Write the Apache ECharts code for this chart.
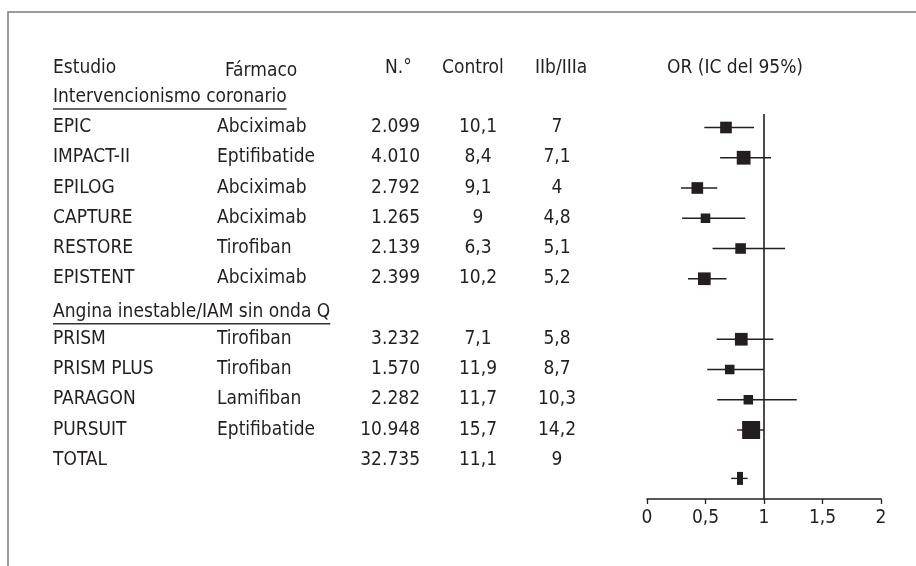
<!DOCTYPE html>
<html><head><meta charset="utf-8">
<script src="https://cdn.jsdelivr.net/npm/echarts@6/dist/echarts.min.js"></script>
<style>html,body{margin:0;padding:0;background:#fff}#c{width:916px;height:566px}</style>
</head><body><div id="c"></div>
<script>
// ---------------- DATA ----------------
const headers = ['Estudio', 'Fármaco', 'N.°', 'Control', 'IIb/IIIa', 'OR (IC del 95%)'];
const groups = ['Intervencionismo coronario', 'Angina inestable/IAM sin onda Q'];
const studies = ['EPIC', 'IMPACT-II', 'EPILOG', 'CAPTURE', 'RESTORE', 'EPISTENT', 'PRISM', 'PRISM PLUS', 'PARAGON', 'PURSUIT'];
const studyGroup = [0, 0, 0, 0, 0, 0, 1, 1, 1, 1];
const drugs = ['Abciximab', 'Eptifibatide', 'Abciximab', 'Abciximab', 'Tirofiban', 'Abciximab', 'Tirofiban', 'Tirofiban', 'Lamifiban', 'Eptifibatide'];
const nPatients = ['2.099', '4.010', '2.792', '1.265', '2.139', '2.399', '3.232', '1.570', '2.282', '10.948'];
const controlPct = ['10,1', '8,4', '9,1', '9', '6,3', '10,2', '7,1', '11,9', '11,7', '15,7'];
const treatedPct = ['7', '7,1', '4', '4,8', '5,1', '5,2', '5,8', '8,7', '10,3', '14,2'];
const oddsRatio = [0.675, 0.826, 0.43, 0.50, 0.80, 0.49, 0.806, 0.707, 0.866, 0.89];
const ciLow = [0.49, 0.625, 0.29, 0.30, 0.56, 0.35, 0.595, 0.515, 0.60, 0.77];
const ciHigh = [0.915, 1.06, 0.60, 0.84, 1.18, 0.68, 1.08, 1.00, 1.28, 1.00];
const weight = [9.1, 12.7, 9.1, 6.1, 7.5, 10.8, 10.8, 6.1, 6.1, 21.7];
const totalRow = ['TOTAL', '32.735', '11,1', '9'];
const totalOR = [0.795, 0.72, 0.86]; // OR, low, high
const xTicks = [0, 0.5, 1, 1.5, 2];

// ---------------- LAYOUT / STYLE ----------------
function fontOK(name) {
  const c = document.createElement('canvas').getContext('2d');
  const s = 'Intervencionismo EPIC 2.099';
  c.font = '40px monospace'; const a = c.measureText(s).width;
  c.font = "40px '" + name + "', monospace"; const b = c.measureText(s).width;
  return Math.abs(a - b) > 0.5;
}
const useDV = fontOK('DejaVu Sans Condensed');
const FONT_FAMILY = useDV ? "'DejaVu Sans Condensed'" : "'Liberation Sans Narrow'";
const FONT_SIZE = useDV ? 19 : 21;
const INK = '#231f20';
const FONT = FONT_SIZE + 'px ' + FONT_FAMILY;

const ROW0 = 97, ROWH = 30.25;           // table line pitch
const L = {
  colStudy: 53, colDrug: 217, colNRight: 420, colCtrlCenter: 478, colTrtCenter: 557,
  headX: [53, 225, 385, 442, 535, 667], headY: 68, headDy: [0, 3.5, 0, 0, 0, 0],
  underlineDy: 12, groupDy: [0, 3]
};

const measureCtx = document.createElement('canvas').getContext('2d');
measureCtx.font = FONT;
function textW(t) { return measureCtx.measureText(t).width; }

// table line index: group heading then its studies, then TOTAL
const lineOfStudy = studies.map((s, i) => i + 1 + studyGroup[i]);
const lineOfGroup = groups.map((g, gi) => studyGroup.indexOf(gi) + gi);
const lineOfTotal = lineOfStudy[lineOfStudy.length - 1] + 1;
const yOfLine = k => ROW0 + ROWH * k;

const items = [];
headers.forEach((h, i) => items.push({x: L.headX[i], y: L.headY + L.headDy[i], t: h, a: 'left'}));
groups.forEach((g, i) => items.push({x: L.colStudy, y: yOfLine(lineOfGroup[i]) + L.groupDy[i], t: g, a: 'left', u: true}));
studies.forEach((s, i) => {
  const y = yOfLine(lineOfStudy[i]);
  items.push({x: L.colStudy, y, t: s, a: 'left'});
  items.push({x: L.colDrug, y, t: drugs[i], a: 'left'});
  items.push({x: L.colNRight, y, t: nPatients[i], a: 'right'});
  items.push({x: L.colCtrlCenter, y, t: controlPct[i], a: 'center'});
  items.push({x: L.colTrtCenter, y, t: treatedPct[i], a: 'center'});
});
const yT = yOfLine(lineOfTotal);
items.push({x: L.colStudy, y: yT, t: totalRow[0], a: 'left'});
items.push({x: L.colNRight, y: yT, t: totalRow[1], a: 'right'});
items.push({x: L.colCtrlCenter, y: yT, t: totalRow[2], a: 'center'});
items.push({x: L.colTrtCenter, y: yT, t: totalRow[3], a: 'center'});

// forest rows share the table pitch; the pooled estimate sits a bit lower
const forestRow = studies.map((s, i) => i + studyGroup[i]);
const totalRowPos = forestRow[forestRow.length - 1] + 1.6;
const maxW = Math.max(...weight);
const forestData = studies.map((s, i) => [forestRow[i], ciLow[i], ciHigh[i], oddsRatio[i], 18 * Math.sqrt(weight[i] / maxW)]);

const chart = echarts.init(document.getElementById('c'), null, {renderer: 'canvas'});
chart.setOption({
  animation: false,
  backgroundColor: '#fff',
  graphic: [{
    type: 'polyline', silent: true,
    shape: {points: [[8, 566], [8, 12], [916, 12]]},
    style: {stroke: '#7a7a7a', lineWidth: 1.5, fill: null}
  }],
  grid: [
    {left: 0, top: 0, width: 916, height: 566},
    {left: 647, right: 35, top: 114, bottom: 67}
  ],
  xAxis: [
    {gridIndex: 0, type: 'value', min: 0, max: 916, show: false},
    {gridIndex: 1, type: 'value', min: xTicks[0], max: xTicks[xTicks.length - 1], interval: 0.5,
     axisLine: {show: true, onZero: false, lineStyle: {color: INK, width: 1.5}},
     axisTick: {show: true, inside: false, length: 5, lineStyle: {color: INK, width: 1.3}},
     axisLabel: {color: INK, fontFamily: FONT_FAMILY, fontSize: FONT_SIZE, margin: 10,
       formatter: v => String(v).replace('.', ',')},
     splitLine: {show: false}}
  ],
  yAxis: [
    {gridIndex: 0, type: 'value', min: 0, max: 566, inverse: true, show: false},
    {gridIndex: 1, type: 'value', min: -0.446, max: 12.281, inverse: true, show: false}
  ],
  series: [
    {
      type: 'custom', xAxisIndex: 0, yAxisIndex: 0, silent: true, clip: false,
      data: items.map(it => [it.x, it.y]),
      encode: {x: 0, y: 1},
      renderItem(params, api) {
        const it = items[params.dataIndex];
        const p = api.coord([api.value(0), api.value(1)]);
        const children = [{
          type: 'text', x: p[0], y: p[1],
          style: {text: it.t, font: FONT, fill: INK, align: it.a, verticalAlign: 'middle'}
        }];
        if (it.u) {
          const w = textW(it.t);
          children.push({type: 'line',
            shape: {x1: p[0], y1: p[1] + L.underlineDy, x2: p[0] + w, y2: p[1] + L.underlineDy},
            style: {stroke: '#333', lineWidth: 1.5}});
        }
        return {type: 'group', children};
      }
    },
    {
      type: 'custom', xAxisIndex: 1, yAxisIndex: 1, silent: true,
      data: forestData,
      encode: {x: [1, 2, 3], y: 0},
      renderItem(params, api) {
        const y = api.value(0);
        const lo = api.coord([api.value(1), y]);
        const hi = api.coord([api.value(2), y]);
        const c = api.coord([api.value(3), y]);
        const s = api.value(4);
        return {type: 'group', children: [
          {type: 'line', shape: {x1: lo[0], y1: lo[1], x2: hi[0], y2: hi[1]}, style: {stroke: INK, lineWidth: 1.4}},
          {type: 'rect', shape: {x: c[0] - s / 2, y: c[1] - s / 2, width: s, height: s}, style: {fill: INK}}
        ]};
      },
      markLine: {
        silent: true, symbol: 'none', label: {show: false},
        lineStyle: {color: INK, width: 1.6, type: 'solid'},
        data: [{xAxis: 1}]
      }
    },
    {
      type: 'custom', xAxisIndex: 1, yAxisIndex: 1, silent: true,
      data: [[totalRowPos, totalOR[1], totalOR[2], totalOR[0]]],
      encode: {x: [1, 2, 3], y: 0},
      renderItem(params, api) {
        const y = api.value(0);
        const lo = api.coord([api.value(1), y]);
        const hi = api.coord([api.value(2), y]);
        const c = api.coord([api.value(3), y]);
        return {type: 'group', children: [
          {type: 'line', shape: {x1: lo[0], y1: lo[1], x2: hi[0], y2: hi[1]}, style: {stroke: INK, lineWidth: 1.4}},
          {type: 'rect', shape: {x: c[0] - 3, y: c[1] - 6.5, width: 6, height: 13}, style: {fill: INK}}
        ]};
      }
    }
  ]
});
</script>
</body></html>
